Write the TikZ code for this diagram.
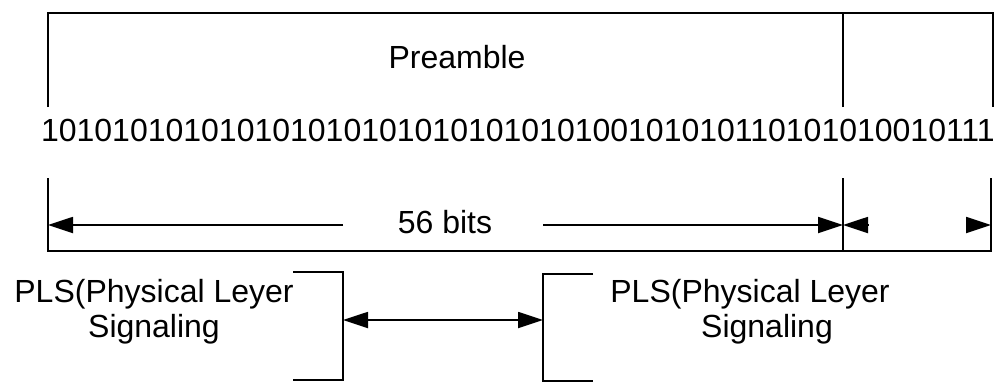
\documentclass[tikz,border=0pt]{standalone}
\usepackage{fontspec}
\setmainfont{Liberation Sans}
\usetikzlibrary{arrows.meta}

\begin{document}
\begin{tikzpicture}[x=1pt,y=-1pt,
  >={Triangle[length=25pt,width=16pt]},
  frame/.style={line width=1.8pt},
  lbl/.style={font=\fontsize{32}{35}\selectfont,inner sep=0pt}]
  \useasboundingbox (0,0) rectangle (1006,383);
  \node[lbl] (pre) at (457,57) {Preamble};
  \node[lbl] (bits) at (518,130) {101010101010101010101010101010100101010110101010010111};
  \node[lbl] (len) at (445,222) {56 bits};
  \node[lbl,align=center] (plsl) at (154,312) {PLS(Physical Leyer\\Signaling};
  \node[lbl,align=center] (plsr) at (750,312) {PLS(Physical Leyer\\\hspace*{34pt}Signaling};
  \coordinate (tl) at (48,13);
  \coordinate (tr) at (993,13);
  \coordinate (ul) at (48,107);
  \coordinate (um) at (843,107);
  \coordinate (ur) at (993,107);
  \coordinate (ll) at (48,178);
  \coordinate (lm) at (843,178);
  \coordinate (lr) at (991,178);
  \coordinate (bl) at (48,251);
  \coordinate (br) at (991,251);
  \draw[frame] (ul) -- (tl) -- (tr) -- (ur);
  \draw[frame] (um) -- (um |- tl);
  \draw[frame] (ll) -- (bl) -- (br) -- (lr);
  \draw[frame] (lm) -- (lm |- bl);
  \coordinate (lenl) at (343,225);
  \coordinate (lenr) at (543,225);
  \coordinate (sfdl) at (868,225);
  \coordinate (sfdr) at (966,225);
  \draw[frame,->] (lenl) -- (ll |- lenl);
  \draw[frame,->] (lenr) -- (lm |- lenr);
  \draw[frame,->] (sfdl) -- (lm |- sfdl);
  \draw[frame,->] (sfdr) -- (lr |- sfdr);
  \coordinate (lbt) at (293,272);
  \coordinate (lbb) at (293,380);
  \coordinate (rbt) at (593,274);
  \coordinate (rbb) at (593,381);
  \draw[frame] (lbt) -- ++(50,0) coordinate (lbk) |- (lbb);
  \draw[frame] (rbt) -- ++(-50,0) coordinate (rbk) |- (rbb);
  \draw[frame,<->] (lbk |- 0,320) -- (rbk |- 0,320);
\end{tikzpicture}
\end{document}
